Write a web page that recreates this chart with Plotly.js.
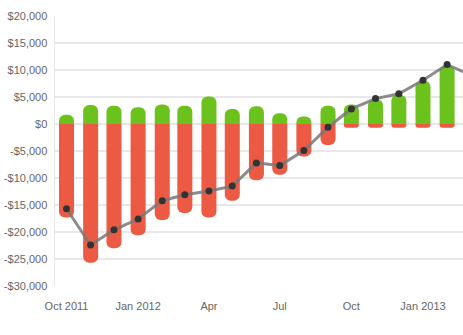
<!DOCTYPE html>
<html>
<head>
<meta charset="utf-8">
<script src="https://cdn.plot.ly/plotly-3.0.1.min.js"></script>
<style>
html,body{margin:0;padding:0;background:#fff;}
#chart{width:463px;height:335px;}
</style>
</head>
<body>
<div id="chart"></div>
<script>
var months = ['2011-10-01','2011-11-01','2011-12-01','2012-01-01','2012-02-01','2012-03-01',
              '2012-04-01','2012-05-01','2012-06-01','2012-07-01','2012-08-01','2012-09-01',
              '2012-10-01','2012-11-01','2012-12-01','2013-01-01','2013-02-01'];
var income = [1700, 3500, 3400, 3100, 3600, 3400, 5100, 2800, 3300, 2000, 1400, 3400,
              3600, 4600, 5400, 8000, 10900];
var expenses = [-17300, -25700, -23000, -20600, -17800, -16500, -17300, -14200, -10400, -9400, -6000, -3900,
                -700, -700, -700, -700, -700];
var netMonths = ['2011-10-01','2011-11-01','2011-12-01','2012-01-01','2012-02-01','2012-03-01',
                 '2012-04-01','2012-05-01','2012-06-01','2012-07-01','2012-08-01','2012-09-01',
                 '2012-10-01','2012-11-01','2012-12-01','2013-01-01','2013-02-01','2013-03-01'];
var net = [-15700, -22400, -19600, -17600, -14200, -13100, -12400, -11500, -7200, -7700, -4900, -600,
           2800, 4700, 5600, 8100, 11000, 9200];
var yTickVals = [20000, 15000, 10000, 5000, 0, -5000, -10000, -15000, -20000, -25000, -30000];
var yTickText = ['$20,000','$15,000','$10,000','$5,000','$0','-$5,000','-$10,000','-$15,000','-$20,000','-$25,000','-$30,000'];

var barW = 19.3 * 86400000;
var traces = [
  {type:'bar', x: months, y: income, width: barW,
   marker:{color:'#6cc21c', line:{width:0}}, hoverinfo:'none'},
  {type:'bar', x: months, y: expenses, width: barW,
   marker:{color:'#ec5a44', line:{width:0}}, hoverinfo:'none'},
  {type:'scatter', mode:'lines+markers', x: netMonths, y: net,
   line:{color:'rgba(120,120,120,0.85)', width:3},
   marker:{color:'#333333', size:7}, hoverinfo:'none', cliponaxis:true}
];
var layout = {
  width:463, height:335,
  margin:{l:55, r:0, t:16, b:49},
  paper_bgcolor:'#ffffff', plot_bgcolor:'#ffffff',
  barmode:'relative',
  barcornerradius:6,
  showlegend:false,
  font:{family:'"Liberation Sans", Arial, Helvetica, sans-serif', size:11, color:'#666666'},
  xaxis:{type:'date', range:['2011-09-16 05:00','2013-02-21 10:00'],
         dtick:'M3', tick0:'2011-10-01', tickformat:'%b\n%Y',
         showgrid:false, zeroline:false, showline:false,
         ticks:'', ticklabelstandoff:12,
         tickvals:['2011-10-01','2012-01-01','2012-04-01','2012-07-01','2012-10-01','2013-01-01'],
         ticktext:['Oct 2011','Jan 2012','Apr','Jul','Oct','Jan 2013'],
         tickfont:{size:11, color:'#666666'}},
  yaxis:{range:[-30000, 20000], tickvals:yTickVals, ticktext:yTickText,
         showgrid:true, gridcolor:'#e8e8e8', gridwidth:1.5,
         zeroline:false, showline:true, linecolor:'#e8e8e8', linewidth:1.5,
         ticks:'', ticklabelstandoff:4,
         tickfont:{size:11, color:'#666666'}}
};
Plotly.newPlot('chart', traces, layout, {displayModeBar:false, staticPlot:true});
</script>
</body>
</html>
